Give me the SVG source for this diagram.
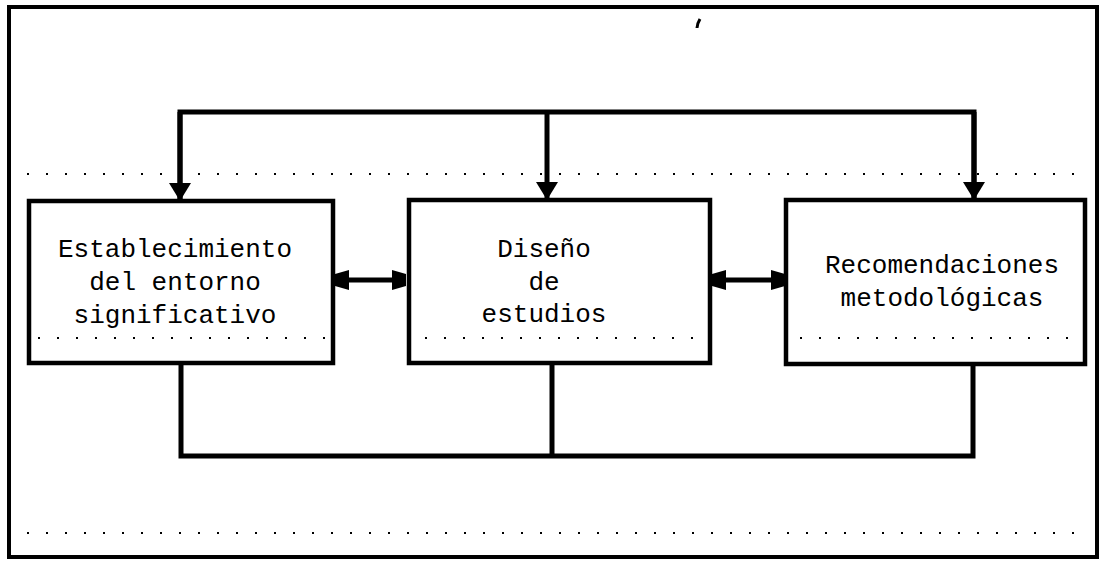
<svg xmlns="http://www.w3.org/2000/svg" width="1100" height="562" viewBox="0 0 1100 562">
<style>
.frame{fill:none;stroke:#000;stroke-width:4}
.box{fill:#fff;stroke:#000;stroke-width:4.5}
.conn{fill:none;stroke:#000;stroke-width:5}
.dots{fill:none;stroke:#000;stroke-width:2;stroke-dasharray:2 17}
.lbl{font-family:"Liberation Mono","DejaVu Sans Mono",monospace;font-size:26px;fill:#000;text-anchor:middle}
</style>
<defs>
<marker id="down" markerUnits="userSpaceOnUse" markerWidth="24" markerHeight="24" viewBox="-1 -12 20 24" refX="18" refY="0" orient="auto">
<path d="M0,-11 L18,0 L0,11 z" fill="#000"/>
</marker>
<marker id="dbl" markerUnits="userSpaceOnUse" markerWidth="16" markerHeight="24" viewBox="-1 -12 16 24" refX="14" refY="0" orient="auto-start-reverse">
<path d="M0,-10 L14,-6 L14,6 L0,10 z" fill="#000"/>
</marker>
</defs>
<rect class="frame" x="9" y="7" width="1088" height="550"/>
<line class="dots" x1="27" y1="174" x2="1082" y2="174"/>
<line class="dots" x1="27" y1="533" x2="1082" y2="533"/>
<path d="M700,19 q-3,5 -3,9" stroke="#000" stroke-width="3" fill="none"/>
<g id="connectors">
<path class="conn" d="M180,201 V112 H974 V201"/>
<line class="conn" x1="180" y1="112" x2="180" y2="201" marker-end="url(#down)"/>
<line class="conn" x1="547" y1="112" x2="547" y2="200" marker-end="url(#down)"/>
<line class="conn" x1="974" y1="112" x2="974" y2="200" marker-end="url(#down)"/>
<path class="conn" d="M181,363 V456 H973 V363"/>
<line class="conn" x1="552" y1="363" x2="552" y2="456"/>
<line class="conn" x1="335" y1="280" x2="406" y2="280" marker-start="url(#dbl)" marker-end="url(#dbl)"/>
<line class="conn" x1="712" y1="280" x2="785" y2="280" marker-start="url(#dbl)" marker-end="url(#dbl)"/>
</g>
<g id="node-establecimiento">
<rect class="box" x="29" y="201" width="304" height="162"/>
<line class="dots" x1="38" y1="338" x2="330" y2="338"/>
<text class="lbl"><tspan x="175" y="257">Establecimiento</tspan><tspan x="175" y="290">del entorno</tspan><tspan x="175" y="323">significativo</tspan></text>
</g>
<g id="node-diseno">
<rect class="box" x="409" y="200" width="301" height="163"/>
<line class="dots" x1="425" y1="338" x2="705" y2="338"/>
<text class="lbl"><tspan x="544" y="257">Diseño</tspan><tspan x="544" y="290">de</tspan><tspan x="544" y="322">estudios</tspan></text>
</g>
<g id="node-recomendaciones">
<rect class="box" x="786" y="200" width="299" height="164"/>
<line class="dots" x1="800" y1="338" x2="1075" y2="338"/>
<text class="lbl"><tspan x="942" y="273">Recomendaciones</tspan><tspan x="942" y="306">metodológicas</tspan></text>
</g>
</svg>
